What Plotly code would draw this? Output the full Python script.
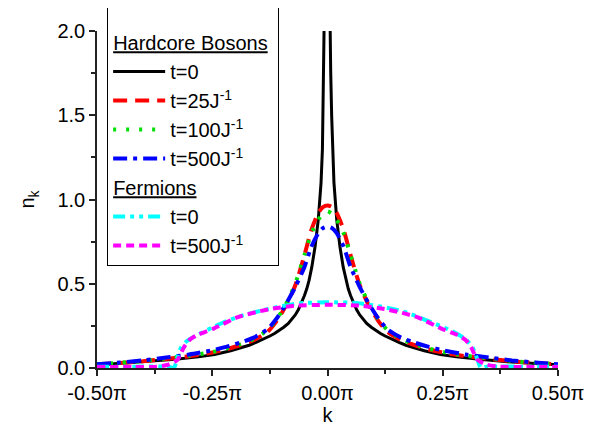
import plotly.graph_objects as go

# momentum k in units of pi, occupation n_k
k_hcb_t0 = [-0.5, -0.45, -0.39, -0.33, -0.28, -0.245, -0.21, -0.19, -0.17, -0.155, -0.14, -0.125,
            -0.115, -0.105, -0.095, -0.085, -0.078, -0.07, -0.063, -0.057, -0.05, -0.045, -0.04,
            -0.034, -0.027, -0.02, -0.014, -0.011, -0.009, -0.007, -0.005, -0.003, 0.0,
            0.003, 0.005, 0.007, 0.009, 0.011, 0.014, 0.02, 0.027, 0.034, 0.04, 0.045, 0.05,
            0.057, 0.063, 0.07, 0.078, 0.085, 0.095, 0.105, 0.115, 0.125, 0.14, 0.155, 0.17,
            0.19, 0.21, 0.245, 0.28, 0.33, 0.39, 0.45, 0.5]
n_hcb_t0 = [0.018, 0.027, 0.037, 0.052, 0.066, 0.08, 0.102, 0.117, 0.135, 0.152, 0.17, 0.19,
            0.205, 0.222, 0.242, 0.265, 0.288, 0.315, 0.347, 0.383, 0.43, 0.47, 0.52,
            0.6, 0.72, 0.88, 1.1, 1.3, 1.5, 1.75, 2.0, 2.6, 3.5,
            2.6, 2.0, 1.75, 1.5, 1.3, 1.1, 0.88, 0.72, 0.6, 0.52, 0.47, 0.43,
            0.383, 0.347, 0.315, 0.288, 0.265, 0.242, 0.222, 0.205, 0.19, 0.17, 0.152, 0.135,
            0.117, 0.102, 0.08, 0.066, 0.052, 0.037, 0.027, 0.02]

k_hcb = [-0.5, -0.45, -0.4, -0.35, -0.3, -0.25, -0.22, -0.19, -0.16, -0.13, -0.11, -0.09, -0.07,
         -0.05, -0.035, -0.02, -0.01, 0.0, 0.01, 0.02, 0.035, 0.05, 0.07, 0.09, 0.11, 0.13,
         0.16, 0.19, 0.22, 0.25, 0.3, 0.35, 0.4, 0.45, 0.5]
n_hcb_t25 = [0.022, 0.03, 0.04, 0.054, 0.07, 0.092, 0.11, 0.135, 0.165, 0.215, 0.28, 0.37, 0.49,
             0.67, 0.82, 0.92, 0.955, 0.965, 0.955, 0.92, 0.82, 0.67, 0.49, 0.37, 0.28, 0.215,
             0.165, 0.135, 0.11, 0.092, 0.07, 0.054, 0.04, 0.03, 0.022]
n_hcb_t100 = [0.023, 0.031, 0.042, 0.057, 0.073, 0.095, 0.115, 0.14, 0.172, 0.225, 0.29, 0.38, 0.5,
              0.67, 0.8, 0.88, 0.915, 0.93, 0.915, 0.88, 0.8, 0.67, 0.5, 0.38, 0.29, 0.225,
              0.172, 0.14, 0.115, 0.095, 0.073, 0.057, 0.042, 0.031, 0.023]
n_hcb_t500 = [0.022, 0.033, 0.045, 0.062, 0.08, 0.105, 0.125, 0.15, 0.18, 0.23, 0.295, 0.38, 0.48,
              0.6, 0.72, 0.8, 0.83, 0.84, 0.83, 0.8, 0.72, 0.6, 0.48, 0.38, 0.295, 0.23,
              0.18, 0.15, 0.125, 0.105, 0.08, 0.062, 0.045, 0.033, 0.022]

k_fer_t0 = [-0.5, -0.42, -0.345, -0.333, -0.326, -0.318, -0.305, -0.283, -0.247, -0.218, -0.18,
            -0.124, -0.066, 0.0, 0.066, 0.129, 0.165, 0.223, 0.274, 0.3, 0.315, 0.324, 0.333,
            0.345, 0.42, 0.5]
n_fer_t0 = [0.008, 0.008, 0.008, 0.0, 0.06, 0.12, 0.16, 0.195, 0.244, 0.28, 0.315,
            0.353, 0.383, 0.39, 0.385, 0.358, 0.335, 0.274, 0.214, 0.17, 0.12, 0.06, 0.0,
            0.008, 0.008, 0.008]

k_fer_t500 = [-0.5, -0.42, -0.37, -0.345, -0.325, -0.312, -0.3, -0.283, -0.247, -0.196, -0.153,
              -0.124, -0.07, 0.0, 0.07, 0.124, 0.153, 0.196, 0.247, 0.283, 0.3, 0.312, 0.325,
              0.345, 0.37, 0.42, 0.5]
n_fer_t500 = [0.006, 0.006, 0.008, 0.02, 0.05, 0.12, 0.165, 0.195, 0.234, 0.3, 0.333,
              0.35, 0.37, 0.375, 0.37, 0.35, 0.333, 0.3, 0.234, 0.195, 0.165, 0.12, 0.05,
              0.02, 0.008, 0.006, 0.006]

x_tickvals = [-0.5, -0.25, 0.0, 0.25, 0.5]
x_ticktext = ["-0.50π", "-0.25π", "0.00π", "0.25π", "0.50π"]

FONT = "Liberation Sans, Arial, sans-serif"

series = [
    (k_hcb_t0, n_hcb_t0, "t=0", "black", "solid", 3, "hcb", "linear"),
    (k_hcb, n_hcb_t25, "t=25J<sup>-1</sup>", "#ff0000", "14px,8px", 4, "hcb", "spline"),
    (k_hcb, n_hcb_t100, "t=100J<sup>-1</sup>", "#00e000", "3px,10px", 4, "hcb", "spline"),
    (k_hcb, n_hcb_t500, "t=500J<sup>-1</sup>", "#0000ff", "14px,6px,4px,6px", 4, "hcb", "spline"),
    (k_fer_t0, n_fer_t0, "t=0", "#00ffff", "12px,5px,4px,5px,4px,5px", 4, "fer", "spline"),
    (k_fer_t500, n_fer_t500, "t=500J<sup>-1</sup>", "#ff00ff", "8px,5px", 4, "fer", "spline"),
]

fig = go.Figure()
for k, n, name, color, dash, width, grp, shape in series:
    line = dict(color=color, dash=dash, width=width, shape=shape)
    if shape == "spline":
        line["smoothing"] = 0.6
    fig.add_trace(go.Scatter(
        x=k, y=n, mode="lines", name=name, line=line,
        legendgroup=grp,
        legendgrouptitle_text="<u>Hardcore Bosons</u>" if grp == "hcb" else "<u>Fermions</u>",
        legendgrouptitle_font=dict(size=20, color="black", family=FONT),
    ))

axis_common = dict(
    showline=True, linecolor="#222", linewidth=1.5, mirror=False,
    ticks="outside", ticklen=6, tickwidth=1.5, tickcolor="#222",
    showgrid=False, zeroline=False,
    tickfont=dict(size=20, color="black", family=FONT),
)

fig.update_xaxes(
    range=[-0.5, 0.5], tickvals=x_tickvals, ticktext=x_ticktext,
    minor=dict(dtick=0.125, ticks="outside", ticklen=4, tickwidth=1.5, tickcolor="#222"),
    title=dict(text="k", font=dict(size=20, color="black", family=FONT), standoff=2),
    **axis_common,
)
fig.update_yaxes(
    range=[0, 2.0], dtick=0.5, tickformat=".1f",
    minor=dict(dtick=0.25, ticks="outside", ticklen=4, tickwidth=1.5, tickcolor="#222"),
    title=dict(text="n<sub>k</sub>", font=dict(size=20, color="black", family=FONT), standoff=17),
    **axis_common,
)

fig.update_layout(
    width=598, height=436,
    margin=dict(l=89, r=48, t=23, b=76, autoexpand=False),
    plot_bgcolor="white", paper_bgcolor="white",
    font=dict(family=FONT, size=20, color="black"),
    legend=dict(
        x=0.022, y=1.077, xanchor="left", yanchor="top",
        bgcolor="white", bordercolor="black", borderwidth=1,
        font=dict(size=20, color="black", family=FONT),
        title=dict(text=" ", font=dict(size=13)),
        traceorder="grouped", tracegroupgap=0, itemwidth=52,
        maxheight=400,
    ),
)

fig.write_html("out.html")
